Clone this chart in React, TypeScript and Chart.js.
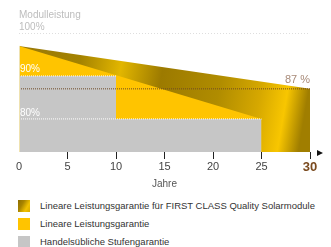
import React, { useEffect, useRef } from "react";
import { Chart, registerables } from "chart.js";

Chart.register(...registerables);

// ---- data ----
const xTicks = [0, 5, 10, 15, 20, 25, 30];
const firstClassYears = [0, 30];
const firstClassValues = [97, 87];
const linearYears = [0, 25, 25];
const linearValues = [97, 80, 72.3];
const stepYears = [0, 10, 10, 25, 25];
const stepValues = [90, 90, 80, 80, 72.3];
const ref100Years = [0, 30];
const ref100Values = [100, 100];
const ref87Years = [0, 30];
const ref87Values = [87, 87];
const ref90Years = [0, 10];
const ref90Values = [90, 90];
const ref80Years = [0, 25];
const ref80Values = [80, 80];
const yMin = 72.3;
const yMax = 100;
const legendLabels = [
  "Lineare Leistungsgarantie für FIRST CLASS Quality Solarmodule",
  "Lineare Leistungsgarantie",
  "Handelsübliche Stufengarantie",
];
const axisTitle = "Jahre";
const topLabel = "Modulleistung";
const label100 = "100%";
const label90 = "90%";
const label80 = "80%";
const label87 = "87 %";

const FONT = "'Liberation Sans', Arial, sans-serif";
const YELLOW = "#FFC400";
const GREY = "#C6C6C6";

const pts = (xs: number[], ys: number[]) => xs.map((x, i) => ({ x, y: ys[i] }));

function goldGradient(ctx: CanvasRenderingContext2D, l: number, t: number, r: number, b: number) {
  const g = ctx.createLinearGradient(l, t, r, t + 50);
  g.addColorStop(0, "#98780a");
  g.addColorStop(0.22, "#a48200");
  g.addColorStop(0.36, "#e2b600");
  g.addColorStop(0.5, "#9c7a00");
  g.addColorStop(0.7, "#b08c00");
  g.addColorStop(0.84, "#d6a800");
  g.addColorStop(0.93, "#f8c600");
  g.addColorStop(1, "#a07e00");
  return g;
}

const overlayPlugin = {
  id: "overlay",
  afterDatasetsDraw(chart: any) {
    const { ctx, chartArea, scales } = chart;
    const x = scales.x;
    const y = scales.y;
    const left = chartArea.left;
    ctx.save();
    // left light line
    ctx.strokeStyle = "#efe2b0";
    ctx.lineWidth = 1;
    ctx.beginPath();
    ctx.moveTo(left + 0.5, y.getPixelForValue(firstClassValues[0]));
    ctx.lineTo(left + 0.5, chartArea.bottom);
    ctx.stroke();

    ctx.textBaseline = "middle";
    ctx.textAlign = "left";
    ctx.font = `10px ${FONT}`;
    ctx.fillStyle = "#bdbdbd";
    ctx.fillText(topLabel, left, y.getPixelForValue(100) - 18);
    ctx.fillText(label100, left, y.getPixelForValue(100) - 6);

    ctx.fillStyle = "#ffffff";
    ctx.fillText(label90, left + 1, y.getPixelForValue(90) - 7);
    ctx.fillText(label80, left + 1, y.getPixelForValue(80) - 6);

    ctx.textAlign = "right";
    ctx.fillStyle = "#a88a78";
    ctx.font = `11px ${FONT}`;
    ctx.fillText(label87, x.getPixelForValue(30), y.getPixelForValue(87) - 9);

    // arrow
    const ax = x.getPixelForValue(30) + 7;
    const ay = chartArea.bottom + 1;
    ctx.fillStyle = "#111";
    ctx.beginPath();
    ctx.moveTo(ax, ay - 3);
    ctx.lineTo(ax + 6, ay);
    ctx.lineTo(ax, ay + 3);
    ctx.closePath();
    ctx.fill();
    ctx.restore();
  },
};

export default function App() {
  const ref = useRef<HTMLCanvasElement | null>(null);

  useEffect(() => {
    if (!ref.current) return;
    const area = (data: any[], color: any) => ({
      data,
      backgroundColor: color,
      borderWidth: 0,
      pointRadius: 0,
      fill: "start",
      tension: 0,
    });
    const line = (data: any[], color: string, dash: number[]) => ({
      data,
      borderColor: color,
      borderWidth: 1,
      borderDash: dash,
      pointRadius: 0,
      fill: false,
      tension: 0,
    });
    const chart = new Chart(ref.current, {
      type: "line",
      data: {
        datasets: [
          line(pts(ref87Years, ref87Values), "#6e4a26", [1, 1]),
          line(pts(ref90Years, ref90Values), "#ffffff", [1, 1]),
          line(pts(ref80Years, ref80Values), "#ffffff", [1, 1]),
          line(pts(ref100Years, ref100Values), "#bdbdbd", [1, 2]),
          area(pts(stepYears, stepValues), GREY),
          area(pts(linearYears, linearValues), YELLOW),
          area(pts(firstClassYears, firstClassValues), (c: any) => {
            const ca = c.chart.chartArea;
            if (!ca) return "#b08c00";
            return goldGradient(c.chart.ctx, ca.left, ca.top, ca.right, ca.bottom);
          }),
        ] as any,
      },
      options: {
        responsive: false,
        animation: false,
        layout: { padding: { left: 19, right: 21, top: 33, bottom: 5 } },
        plugins: { legend: { display: false }, tooltip: { enabled: false } },
        scales: {
          x: {
            type: "linear",
            min: 0,
            max: 30,
            afterBuildTicks: (s: any) => {
              s.ticks = xTicks.map((v) => ({ value: v }));
            },
            afterFit: (s: any) => {
              s.height = 38;
            },
            border: { display: false },
            grid: {
              drawOnChartArea: false,
              drawTicks: true,
              tickLength: 7,
              lineWidth: 1,
              color: (c: any) => (c.tick && c.tick.value === 0 ? "rgba(0,0,0,0)" : "#222"),
            },
            ticks: {
              padding: 1,
              color: (c: any) => (c.tick && c.tick.value === 30 ? "#7a4a1e" : "#444"),
              font: (c: any) =>
                c.tick && c.tick.value === 30
                  ? { size: 13, weight: "bold", family: FONT }
                  : { size: 11, family: FONT },
              maxRotation: 0,
            },
            title: {
              display: true,
              text: axisTitle,
              color: "#555",
              font: { size: 10, family: FONT },
              padding: { top: 2, bottom: 0 },
            },
          },
          y: { display: false, min: yMin, max: yMax },
        },
      } as any,
      plugins: [overlayPlugin],
    });
    return () => chart.destroy();
  }, []);

  const swatches = [
    "linear-gradient(120deg, #8c6c00 0%, #a88400 35%, #f2c200 70%, #d8aa00 100%)",
    YELLOW,
    GREY,
  ];

  return (
    <div
      style={{
        position: "absolute",
        left: 0,
        top: 0,
        width: 331,
        height: 247,
        background: "#fff",
        fontFamily: FONT,
        overflow: "hidden",
      }}
    >
      <canvas ref={ref} width={331} height={195} style={{ position: "absolute", left: 0, top: 0, width: 331, height: 195 }} />
      {legendLabels.map((lab, i) => (
        <div key={lab} style={{ position: "absolute", left: 18, top: 200 + i * 18, height: 12, display: "flex", alignItems: "center" }}>
          <div style={{ width: 12, height: 12, background: swatches[i] }} />
          <div style={{ marginLeft: 10, fontSize: 9.5, color: "#333", whiteSpace: "nowrap", lineHeight: "12px" }}>{lab}</div>
        </div>
      ))}
    </div>
  );
}
